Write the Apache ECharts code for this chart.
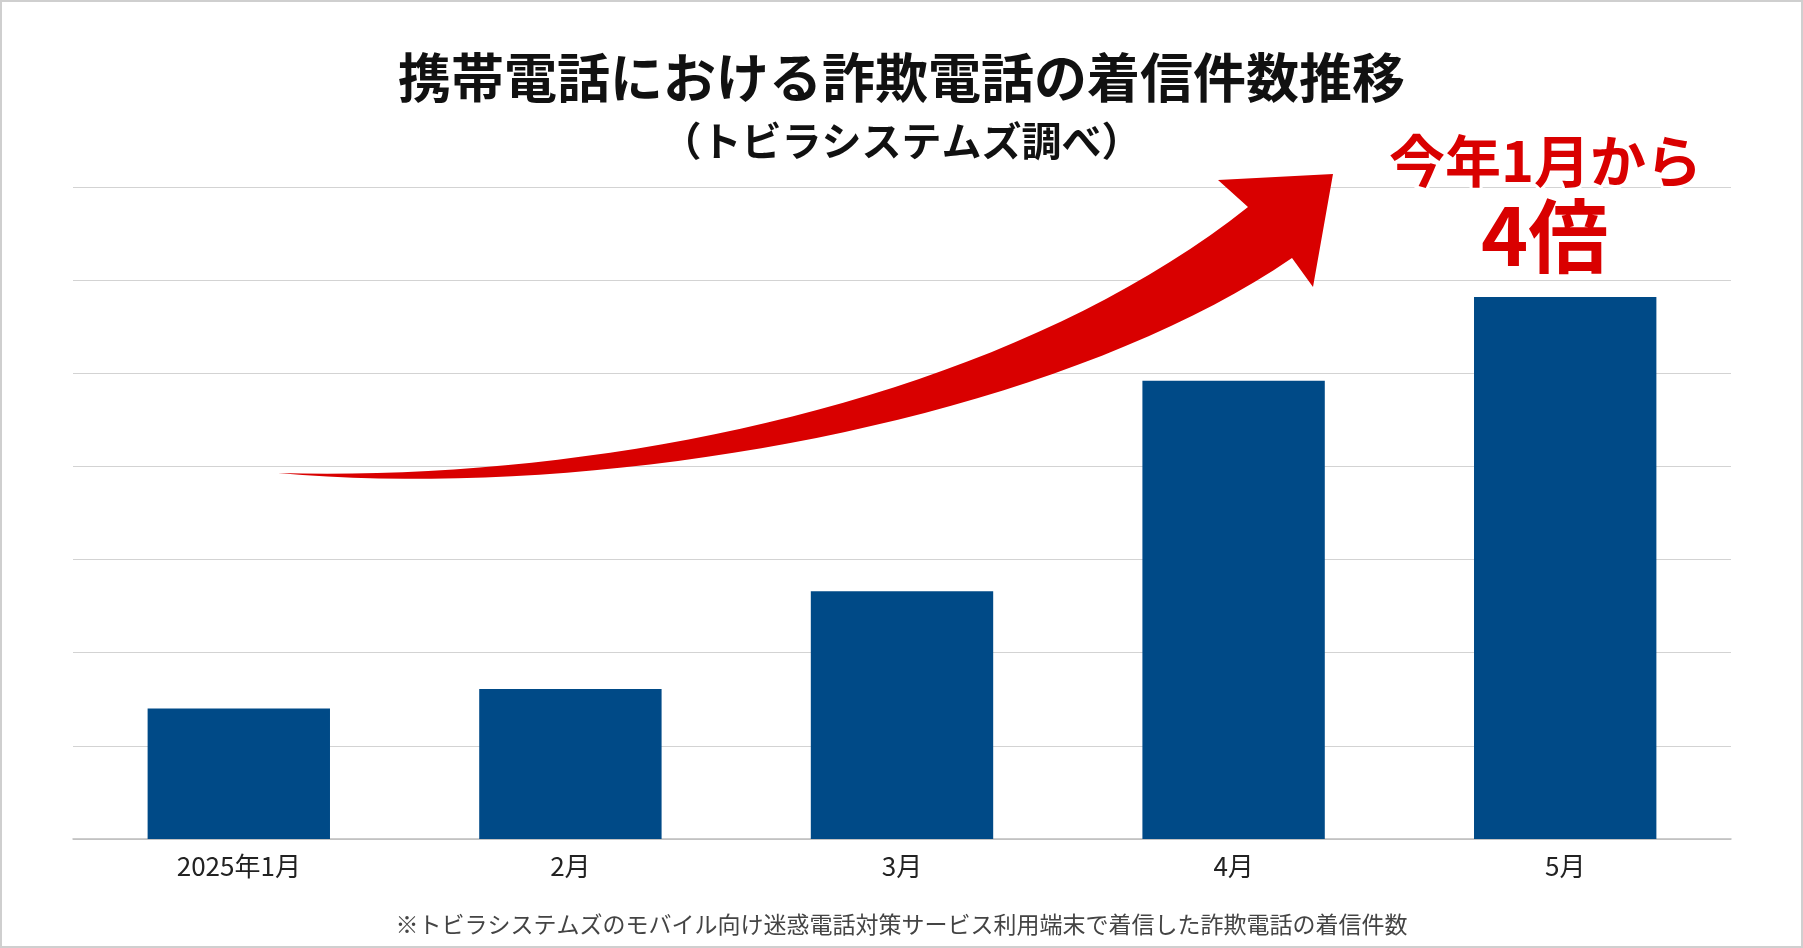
<!DOCTYPE html>
<html><head><meta charset="utf-8">
<script src="https://cdn.jsdelivr.net/npm/echarts@6/dist/echarts.min.js"></script>
<style>html,body{margin:0;padding:0;background:#fff}#c{width:1803px;height:948px;box-sizing:border-box;border:2px solid #cfcfcf}</style>
</head><body><div id="c"></div>
<script>
const categories = ['2025年1月','2月','3月','4月','5月'];
const values = [1.40, 1.61, 2.66, 4.92, 5.82];
const font = '"Noto Sans CJK JP", "Noto Sans", sans-serif';
function bez(p0,p1,p2,p3,n){const out=[];for(let i=0;i<=n;i++){const t=i/n,u=1-t;
  out.push([u*u*u*p0[0]+3*u*u*t*p1[0]+3*u*t*t*p2[0]+t*t*t*p3[0],u*u*u*p0[1]+3*u*u*t*p1[1]+3*u*t*t*p2[1]+t*t*t*p3[1]]);}return out;}
const arrowPts = [].concat(
  bez([276,471],[600,480],[1000,400],[1246,205],40),
  [[1216,178],[1331,172],[1311,285]],
  bez([1290,256],[1050,420],[600,500],[276,471],40));
const chart = echarts.init(document.getElementById('c'));
chart.setOption({
  animation:false,
  textStyle:{fontFamily:font},
  title:[
    {text:'携帯電話における詐欺電話の着信件数推移',left:'center',top:44,textStyle:{fontSize:53,fontWeight:'bold',color:'#111',fontFamily:font}},
    {text:'（トビラシステムズ調べ）',left:'center',top:114,textStyle:{fontSize:40,fontWeight:'bold',color:'#111',fontFamily:font}},
    {text:'※トビラシステムズのモバイル向け迷惑電話対策サービス利用端末で着信した詐欺電話の着信件数',left:'center',top:906,textStyle:{fontSize:23,fontWeight:'normal',color:'#444',fontFamily:font}}
  ],
  grid:{left:71,right:70,top:185,bottom:107},
  xAxis:{type:'category',data:categories,axisTick:{show:false},
    axisLine:{lineStyle:{color:'#bdbdbd',width:1.5}},
    axisLabel:{fontSize:26,color:'#222',margin:14,fontFamily:font}},
  yAxis:{type:'value',min:0,max:7,interval:1,axisLabel:{show:false},
    splitLine:{lineStyle:{color:'#d3d3d3',width:1.2}}},
  series:[{type:'bar',data:values,barWidth:'55%',itemStyle:{color:'#004a87'}}],
  graphic:[
    {type:'polygon',z:100,shape:{points:arrowPts},style:{fill:'#d90000'}},
    {type:'text',z:100,left:1384,top:128,style:{text:'今年1月から',fontSize:56,fontWeight:'bold',fill:'#d90000',stroke:'#fff',lineWidth:6,fontFamily:font}},
    {type:'text',z:100,left:1475,top:190,style:{text:'4倍',fontSize:80,fontWeight:'bold',fill:'#d90000',stroke:'#fff',lineWidth:8,fontFamily:font,
      shadowColor:'rgba(0,0,0,0.5)',shadowBlur:4,shadowOffsetX:2,shadowOffsetY:2}}
  ]
});
</script></body></html>
